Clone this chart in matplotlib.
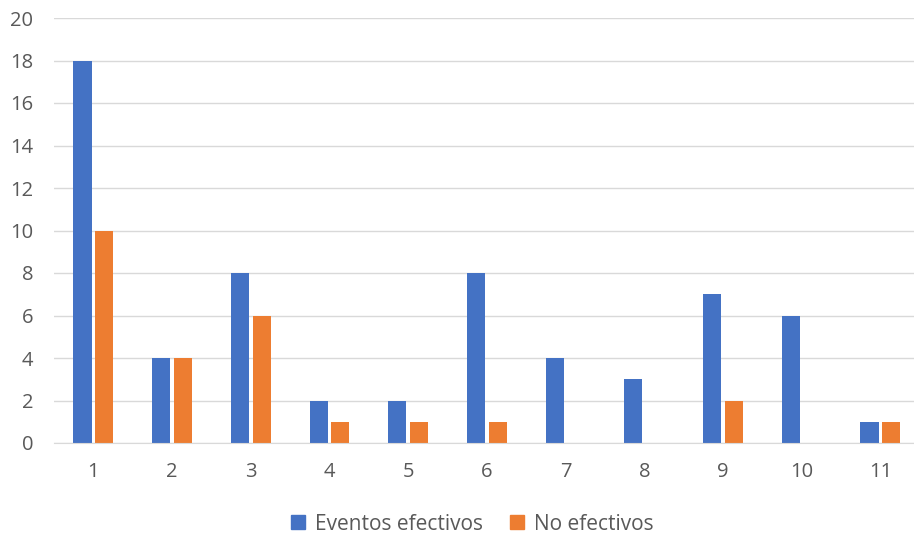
import matplotlib
matplotlib.use("Agg")
import matplotlib.pyplot as plt
import numpy as np
from matplotlib.patches import Patch

categories = ["1", "2", "3", "4", "5", "6", "7", "8", "9", "10", "11"]
efectivos = [18, 4, 8, 2, 2, 8, 4, 3, 7, 6, 1]
no_efectivos = [10, 4, 6, 1, 1, 1, 0, 0, 2, 0, 1]
series_names = ["Eventos efectivos", "No efectivos"]
colors = ["#4472C4", "#ED7D31"]

plt.rcParams['font.family'] = ['Open Sans', 'DejaVu Sans']

fig = plt.figure(figsize=(9.14, 5.39), dpi=100)
ax = fig.add_axes([54/914, 1 - 443/539, (914 - 54)/914, (443 - 18)/539])

x = np.arange(1, len(categories) + 1)
w = 0.23
gap = 0.045
ax.bar(x - w/2 - gap/2, efectivos, width=w, color=colors[0], zorder=3)
ax.bar(x + w/2 + gap/2, no_efectivos, width=w, color=colors[1], zorder=3)

ax.set_ylim(0, 20)
ax.set_yticks(range(0, 21, 2))
ax.set_xlim(0.5, 0.5 + 860/78.7)
ax.set_xticks(x)
ax.set_xticklabels(categories)

ax.grid(axis='y', color='#D9D9D9', linewidth=1, zorder=0)
for s in ['top', 'right', 'left']:
    ax.spines[s].set_visible(False)
ax.spines['bottom'].set_color('#D9D9D9')
ax.spines['bottom'].set_zorder(4)
ax.tick_params(axis='both', length=0, labelsize=14.5, colors='#595959')
ax.tick_params(axis='x', pad=14)
ax.tick_params(axis='y', pad=15)

handles = [Patch(color=c) for c in colors]
fig.legend(handles, series_names, loc='center', bbox_to_anchor=(472.5/914, 1 - 524/539),
           ncol=2, frameon=False, fontsize=15, labelcolor='#595959',
           handlelength=0.65, handleheight=0.65, handletextpad=0.5, columnspacing=1.3)

fig.savefig("out.png", dpi=100)
